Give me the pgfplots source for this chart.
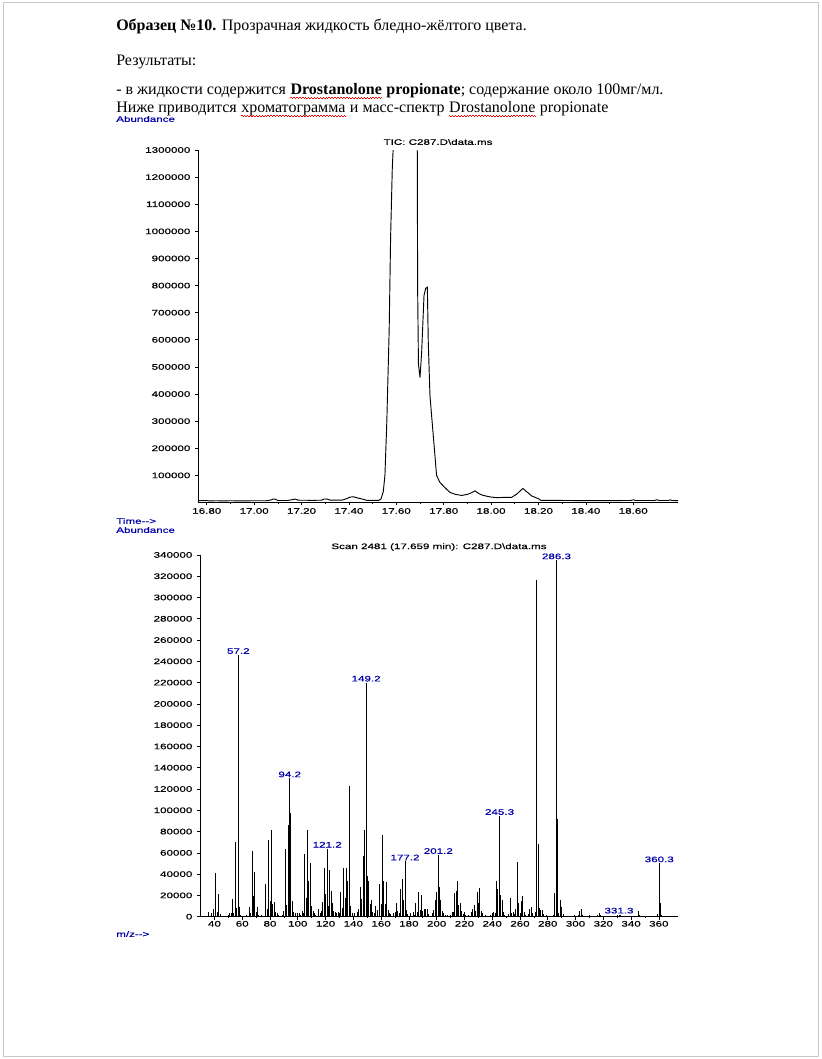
\documentclass[border=0pt]{standalone}
\usepackage{fontspec}
\setmainfont{Liberation Serif}
\newfontfamily\chem[FakeStretch=1.45,FakeBold=0.5]{Liberation Sans}
\usepackage{pgfplots}
\pgfplotsset{compat=1.18}

\definecolor{msblue}{RGB}{0,0,170}
\definecolor{pageedge}{RGB}{200,200,200}

\newcommand\chemsize{\chem\fontsize{6pt}{7pt}\selectfont}

% red spell-check squiggle under a named word node, two offset dash rows
\tikzset{sq/.style={red,line width=0.55pt,dash pattern=on 1.1pt off 1.1pt}}
\newcommand\squig[1]{%
  \draw[sq] ([yshift=-2.0pt]#1.base west) -- ([yshift=-2.0pt]#1.base east);
  \draw[sq,dash phase=1.1pt] ([yshift=-2.8pt]#1.base west) -- ([yshift=-2.8pt]#1.base east);}

\pgfplotsset{chemaxis/.style={
  scale only axis,
  axis x line*=bottom, axis y line*=left,
  axis line style={line width=0.6pt},
  tick style={black, line width=0.5pt},
  tick align=outside,
  major tick length=2.2pt, minor tick length=1.1pt,
  minor y tick style={xshift=1.1pt},
  tick label style={font=\chemsize},
  xticklabel style={yshift=1.5pt},
  /pgf/number format/assume math mode=true,
  scaled ticks=false,
  yticklabel style={/pgf/number format/.cd, fixed, 1000 sep={}},
}}

\begin{document}
\begin{tikzpicture}
\begin{scope}[x=0.75pt,y=-0.75pt]
\fill[white] (0,0) rectangle (821,1059);
\draw[pageedge,line width=0.75pt] (3,3) rectangle (818,1056);

\fontsize{12pt}{14pt}\selectfont
\node[anchor=base west,inner sep=0pt] at (116,31) {\textbf{Образец №10.} Прозрачная жидкость бледно-жёлтого цвета.};
\node[anchor=base west,inner sep=0pt] at (116,66) {Результаты:};

\node[anchor=base west,inner sep=0pt] (c1) at (116,95) {- в жидкости содержится};
\node[anchor=base west,inner sep=0pt] (c2) at ([xshift=3pt]c1.base east) {\textbf{Drostanolone}};
\node[anchor=base west,inner sep=0pt] (c3) at ([xshift=3pt]c2.base east) {\textbf{propionate}; содержание около 100мг/мл.};

\node[anchor=base west,inner sep=0pt] (b1) at (116,113) {Ниже приводится};
\node[anchor=base west,inner sep=0pt] (b2) at ([xshift=3pt]b1.base east) {хроматограмма};
\node[anchor=base west,inner sep=0pt] (b3) at ([xshift=3pt]b2.base east) {и масс-спектр};
\node[anchor=base west,inner sep=0pt] (b4) at ([xshift=3pt]b3.base east) {Drostanolone};
\node[anchor=base west,inner sep=0pt] (b5) at ([xshift=3pt]b4.base east) {propionate};

\squig{c2}
\squig{b2}
\squig{b4}

\node[anchor=west,inner sep=0pt,text=msblue,font=\chemsize] at (116,119) {Abundance};
\node[anchor=west,inner sep=0pt,text=msblue,font=\chemsize] at (116,521) {Time-{}-{}>};
\node[anchor=west,inner sep=0pt,text=msblue,font=\chemsize] at (116,530) {Abundance};
\node[anchor=west,inner sep=0pt,text=msblue,font=\chemsize] at (116,934) {m/z-{}-{}>};

\node[inner sep=0pt,font=\chemsize] at (438,142) {TIC: C287.D\textbackslash data.ms};
\node[inner sep=0pt,font=\chemsize] at (439,547) {Scan 2481 (17.659 min): C287.D\textbackslash data.ms};
\end{scope}

% chromatogram
\begin{axis}[chemaxis,
  at={(148.5pt,-376.875pt)}, anchor=south west,
  width=360pt, height=264.375pt,
  xmin=16.763, xmax=18.789, ymin=0, ymax=1300000,
  xtick={16.8,17,17.2,17.4,17.6,17.8,18,18.2,18.4,18.6},
  ytick={100000,200000,300000,400000,500000,600000,700000,800000,900000,1000000,1100000,1200000,1300000},
  minor x tick num=1, minor y tick num=4,
  xticklabel style={/pgf/number format/.cd, fixed, fixed zerofill, precision=2},
]
\addplot[black, line width=0.7pt] table {
16.763 8000
16.775 6500
16.79 7500
16.81 6000
16.84 6500
16.87 6000
16.90 6500
16.95 6000
17.00 6500
17.05 6500
17.07 9000
17.08 13000
17.09 12000
17.10 7500
17.14 7500
17.165 11000
17.175 12500
17.185 8500
17.25 8000
17.285 8500
17.295 13000
17.31 12500
17.32 8500
17.37 8500
17.39 14000
17.405 20000
17.42 21000
17.44 16000
17.46 12000
17.475 8000
17.50 7500
17.525 8000
17.535 12000
17.545 40000
17.552 100000
17.56 300000
17.570 640000
17.576 980000
17.583 1230000
17.587 1310000
17.60 1800000
17.64 2500000
17.68 1800000
17.6885 1310000
17.690 790000
17.6935 510000
17.700 461000
17.707 554000
17.717 764000
17.724 790000
17.731 794000
17.735 590000
17.742 395000
17.756 247000
17.770 100000
17.784 74000
17.805 55000
17.827 37000
17.85 30000
17.876 26000
17.90 30000
17.915 35000
17.932 43000
17.95 32000
17.967 26000
18.00 20000
18.024 18000
18.06 19000
18.087 19000
18.11 32000
18.134 52000
18.15 40000
18.172 24000
18.20 14000
18.21 8000
18.30 7500
18.40 7000
18.50 7000
18.59 7500
18.60 10000
18.61 7500
18.69 7500
18.70 10000
18.71 7500
18.75 7500
18.755 10000
18.765 7500
18.789 7000
};
\end{axis}

% mass spectrum
\begin{axis}[chemaxis,
  at={(150pt,-687.5pt)}, anchor=south west,
  width=358.5pt, height=271.3pt,
  xmin=29.6, xmax=373.8, ymin=0, ymax=340000,
  xtick={40,60,...,360},
  ytick={0,20000,40000,60000,80000,100000,120000,140000,160000,180000,200000,220000,240000,260000,280000,300000,320000,340000},
  minor x tick num=1, minor y tick num=3,
  xticklabel style={yshift=1pt},
]
\addplot[ycomb, black, line width=0.6pt, mark=none] table {
36 4000
38 3000
39 7000
41 41000
42 4000
43 21000
44 2500
50 2000
51 3500
52 3000
53 17000
54 3000
55 70000
56 8000
57.2 246000
58 9000
59 2000
63 2000
65 9000
66 3000
67 62000
68 19000
69 42000
70 4000
71 9000
72 2000
74 1500
77 31000
78 7000
79 72000
80 15000
81 81000
82 12000
83 14000
84 4000
85 3000
86 1500
89 2000
90 5000
91 64000
92 11000
93 86000
94.2 130000
95 97000
96 15000
97 4000
98 3000
100 3500
101 3000
102 2000
103 5000
104 3000
105 59000
106 18000
107 81000
108 34000
109 50000
110 10000
111 5000
112 3500
113 2000
115 7000
116 3000
117 5000
118 14000
119 46000
120 21000
121.2 64000
122 10000
123 44000
124 24000
125 13000
126 5000
127 4000
128 3000
129 4000
130 3000
131 23000
132 8000
133 46000
134 18000
135 46000
136 34000
137 123000
138 10000
139 3000
141 3000
143 4000
144 7000
145 28000
146 17000
147 57000
148 81000
149.2 220000
150 38000
151 34000
152 12000
153 16000
154 4000
155 3000
156 10000
157 6000
159 31000
160 12000
161 77000
162 34000
163 12000
164 33000
165 6000
166 3000
167 2500
169 3000
170 4000
171 13000
172 5000
173 3000
174 26000
175 35000
176 16000
177.2 52000
178 6000
179 2500
181 3000
183 4500
184 2000
185 13000
186 4000
187 23000
188 6000
189 20000
190 5000
191 7000
192 7000
193 7000
194 2500
197 3000
198 6000
199 16000
200 23000
201.2 58000
202 28000
203 16000
204 5000
205 3000
206 2000
208 2000
210 2000
211 4000
212 4000
213 22000
214 24000
215 34000
216 11000
217 12500
218 5000
219 2500
220 4000
221 2000
223 2000
225 4000
226 7000
227 11000
228 5000
229 23500
230 12500
231 27000
232 5000
233 3000
235 2000
239 2000
240 3000
241 4000
242 3000
243 33600
244 26400
245.3 94700
246 20000
247 15600
248 4000
249 2000
252 2500
253 18000
254 3000
255 4000
256 2500
257 7000
258 51000
259 12500
260 3000
261 15000
262 19000
263 4000
264 2000
266 2500
267 7000
268 9500
269 3000
271 4500
272 316000
273 68000
274 8000
275 6000
276 6000
277 2500
279 1500
284 2000
285 22000
286.3 335000
287 91500
288 3000
289 15600
290 9500
291 2500
299 1500
302 2000
303 5000
304 7000
305 2000
310 1500
316 1500
317 3000
318 1500
330 1500
331.3 2000
332 1500
345 5000
346 1500
359 2500
360.3 50200
361 13000
362 2000
};
\addplot[only marks, mark=none, nodes near coords, point meta=explicit symbolic,
  nodes near coords style={font=\chemsize, text=msblue, anchor=south, inner sep=0.6pt}]
  table[meta=lab] {
x y lab
57.2 246000 57.2
94.2 130000 94.2
121.2 64000 121.2
149.2 220000 149.2
177.2 52000 177.2
201.2 58000 201.2
245.3 94700 245.3
286.3 335000 286.3
331.3 2000 331.3
360.3 50200 360.3
};
\end{axis}
\end{tikzpicture}
\end{document}
